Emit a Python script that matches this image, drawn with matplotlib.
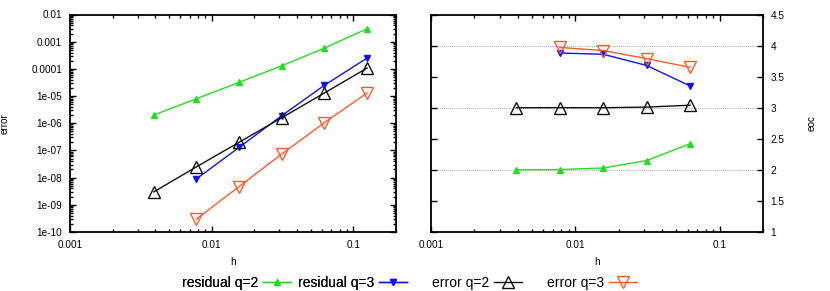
import numpy as np
import matplotlib.pyplot as plt
from matplotlib import ticker

plt.rcParams['font.family'] = ['Liberation Sans', 'DejaVu Sans']

h = [0.125, 0.0625, 0.03125, 0.015625, 0.0078125, 0.00390625]

# error values, left panel
res_q2 = [3.0e-3, 5.8e-4, 1.3e-4, 3.2e-5, 8.0e-6, 2.0e-6]
res_q3 = [2.5e-4, 2.5e-5, 1.9e-6, 1.3e-7, 9.0e-9]
err_q2 = [1.07e-4, 1.3e-5, 1.6e-6, 2.0e-7, 2.5e-8, 3.0e-9]
err_q3 = [1.3e-5, 1.05e-6, 7.4e-8, 4.7e-9, 3.0e-10]

# eoc values, right panel (plotted at the finer h of each pair)
h_eoc = [0.0625, 0.03125, 0.015625, 0.0078125, 0.00390625]
eoc_res_q2 = [2.42, 2.15, 2.03, 2.005, 2.0]
eoc_res_q3 = [3.35, 3.68, 3.86, 3.88]
eoc_err_q2 = [3.04, 3.01, 3.0, 3.0, 3.0]
eoc_err_q3 = [3.65, 3.79, 3.92, 3.97]

green = '#22dd22'
blue = '#1010ff'
black = '#111111'
orange = '#ff5a28'

W, H = 830, 291
fig = plt.figure(figsize=(W/100, H/100), dpi=100)
ax1 = fig.add_axes([70/W, 1-232/H, (396-70)/W, (232-14.5)/H])
ax2 = fig.add_axes([431/W, 1-232/H, (763-431)/W, (232-14.5)/H])

styles = [
    ('residual q=2', green, '^', 5, True),
    ('residual q=3', blue, 'v', 5, True),
    ('error q=2', black, '^', 8.5, False),
    ('error q=3', orange, 'v', 8.5, False),
]
left = [res_q2, res_q3, err_q2, err_q3]
right = [eoc_res_q2, eoc_res_q3, eoc_err_q2, eoc_err_q3]

handles = []
for (lab, c, m, ms, filled), yl, yr in zip(styles, left, right):
    kw = dict(color=c, marker=m, ms=ms, lw=1.0, mew=1.0,
              mfc=c if filled else 'none', mec=c)
    ln, = ax1.plot(h[:len(yl)], yl, label=lab, **kw)
    ax2.plot(h_eoc[:len(yr)], yr, **kw)
    handles.append(ln)

fmt = ticker.FuncFormatter(lambda v, p: '%g' % v)
for ax in (ax1, ax2):
    ax.set_xscale('log')
    ax.set_xlim(0.001, 0.2)
    ax.xaxis.set_major_formatter(fmt)
    ax.tick_params(which='both', direction='in', top=True, right=True,
                   labelsize=7.2, width=1, pad=5.5)
    ax.tick_params(which='major', length=4.5)
    ax.tick_params(which='minor', length=2.2)
    for s in ax.spines.values():
        s.set_linewidth(1.3)
    ax.set_xlabel('h', fontsize=7.2)
    ax.xaxis.set_label_coords(0.5, -0.115)

ax1.set_yscale('log')
ax1.set_ylim(1e-10, 1e-2)
ax1.yaxis.set_major_locator(ticker.LogLocator(base=10, numticks=20))
ax1.yaxis.set_minor_locator(ticker.LogLocator(base=10, subs=np.arange(2, 10), numticks=20))
ax1.yaxis.set_minor_formatter(ticker.NullFormatter())
ax1.yaxis.set_major_formatter(fmt)
ax1.set_ylabel('error', fontsize=7.2)
ax1.yaxis.set_label_coords((10-70)/326, 0.5)

ax2.set_ylim(1, 4.5)
ax2.yaxis.set_major_locator(ticker.MultipleLocator(0.5))
ax2.yaxis.set_major_formatter(fmt)
ax2.yaxis.tick_right()
ax2.tick_params(axis='y', which='both', left=True, right=True, labelleft=False, labelright=True)
ax2.yaxis.set_label_position('right')
ax2.set_ylabel('eoc', fontsize=7.2)
ax2.yaxis.set_label_coords((807-431)/332, 0.5)
for g in (2, 3, 4):
    ax2.axhline(g, color='#888888', lw=0.6, ls=(0, (1, 1.5)), zorder=0)

leg_kw = dict(loc='center left', frameon=False, markerfirst=False, fontsize=10,
              ncol=2, handlelength=2.0, handletextpad=0.35, borderpad=0,
              borderaxespad=0)
leg1 = fig.legend(handles=handles[:2], bbox_to_anchor=(182/W, 1-283/H),
                  columnspacing=0.5, **leg_kw)
fig.add_artist(leg1)
fig.legend(handles=handles[2:], bbox_to_anchor=(432/W, 1-283/H),
           columnspacing=1.8, **leg_kw)

fig.savefig('out.png', dpi=100)
